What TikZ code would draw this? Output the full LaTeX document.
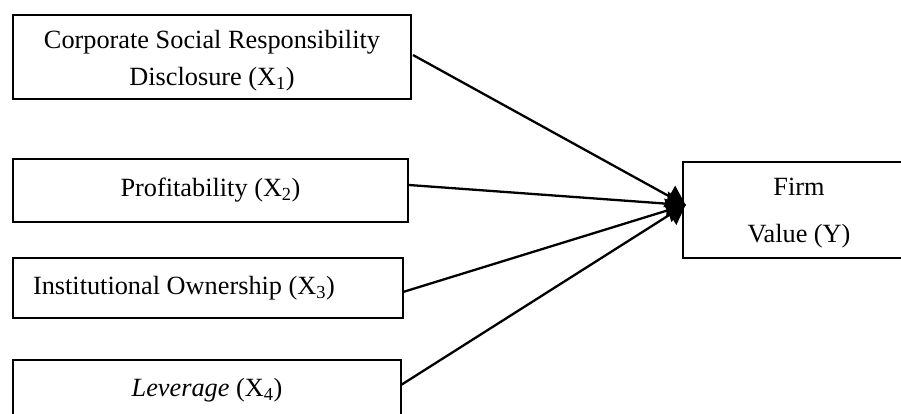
\documentclass[tikz,border=0pt]{standalone}
\usepackage{fontspec}
\setmainfont{Liberation Serif}
\usetikzlibrary{arrows.meta}
\tikzset{
  varbox/.style={draw, line width=1.7pt, rectangle, inner sep=0pt, align=center,
    font=\fontsize{26.3}{37}\selectfont},
  link/.style={line width=2.3pt, -{Triangle[length=19pt,width=24pt]}, shorten >=-1pt}
}
\begin{document}
\begin{tikzpicture}[x=1pt,y=-1pt]
\useasboundingbox (0,0) rectangle (901,413);
\node[varbox, minimum width=398pt, minimum height=84pt] (x1) at (212,57) {};
\node[font=\fontsize{26.3}{37}\selectfont, align=center, inner sep=0pt] (x1t) at (212,61)
  {Corporate Social Responsibility\\Disclosure (X\textsubscript{1})};
\node[varbox, minimum width=395pt, minimum height=63pt] (x2) at (210.5,190.5)
  {Profitability (X\textsubscript{2})};
\node[varbox, minimum width=390pt, minimum height=60pt, text width=350pt, align=flush left, inner xsep=20pt] (x3) at (208,288)
  {Institutional Ownership (X\textsubscript{3})};
\node[varbox, minimum width=388pt, minimum height=60pt] (x4) at (207,390)
  {\textit{Leverage} (X\textsubscript{4})};
\node[varbox, minimum width=232pt, minimum height=96pt] (y) at (799,210) {};
\node[font=\fontsize{26.3}{37}\selectfont, align=center, inner sep=0pt] (yt) at (799,213)
  {Firm\\[10pt]Value (Y)};
\coordinate (tip) at (685,205);
\coordinate (s1) at (413,55);
\coordinate (s2) at (409,185);
\coordinate (s3) at (403,292);
\coordinate (s4) at (401,385);
\draw[link] (s1) -- (tip);
\draw[link] (s2) -- (tip);
\draw[link] (s3) -- (tip);
\draw[link] (s4) -- (tip);
\end{tikzpicture}
\end{document}
